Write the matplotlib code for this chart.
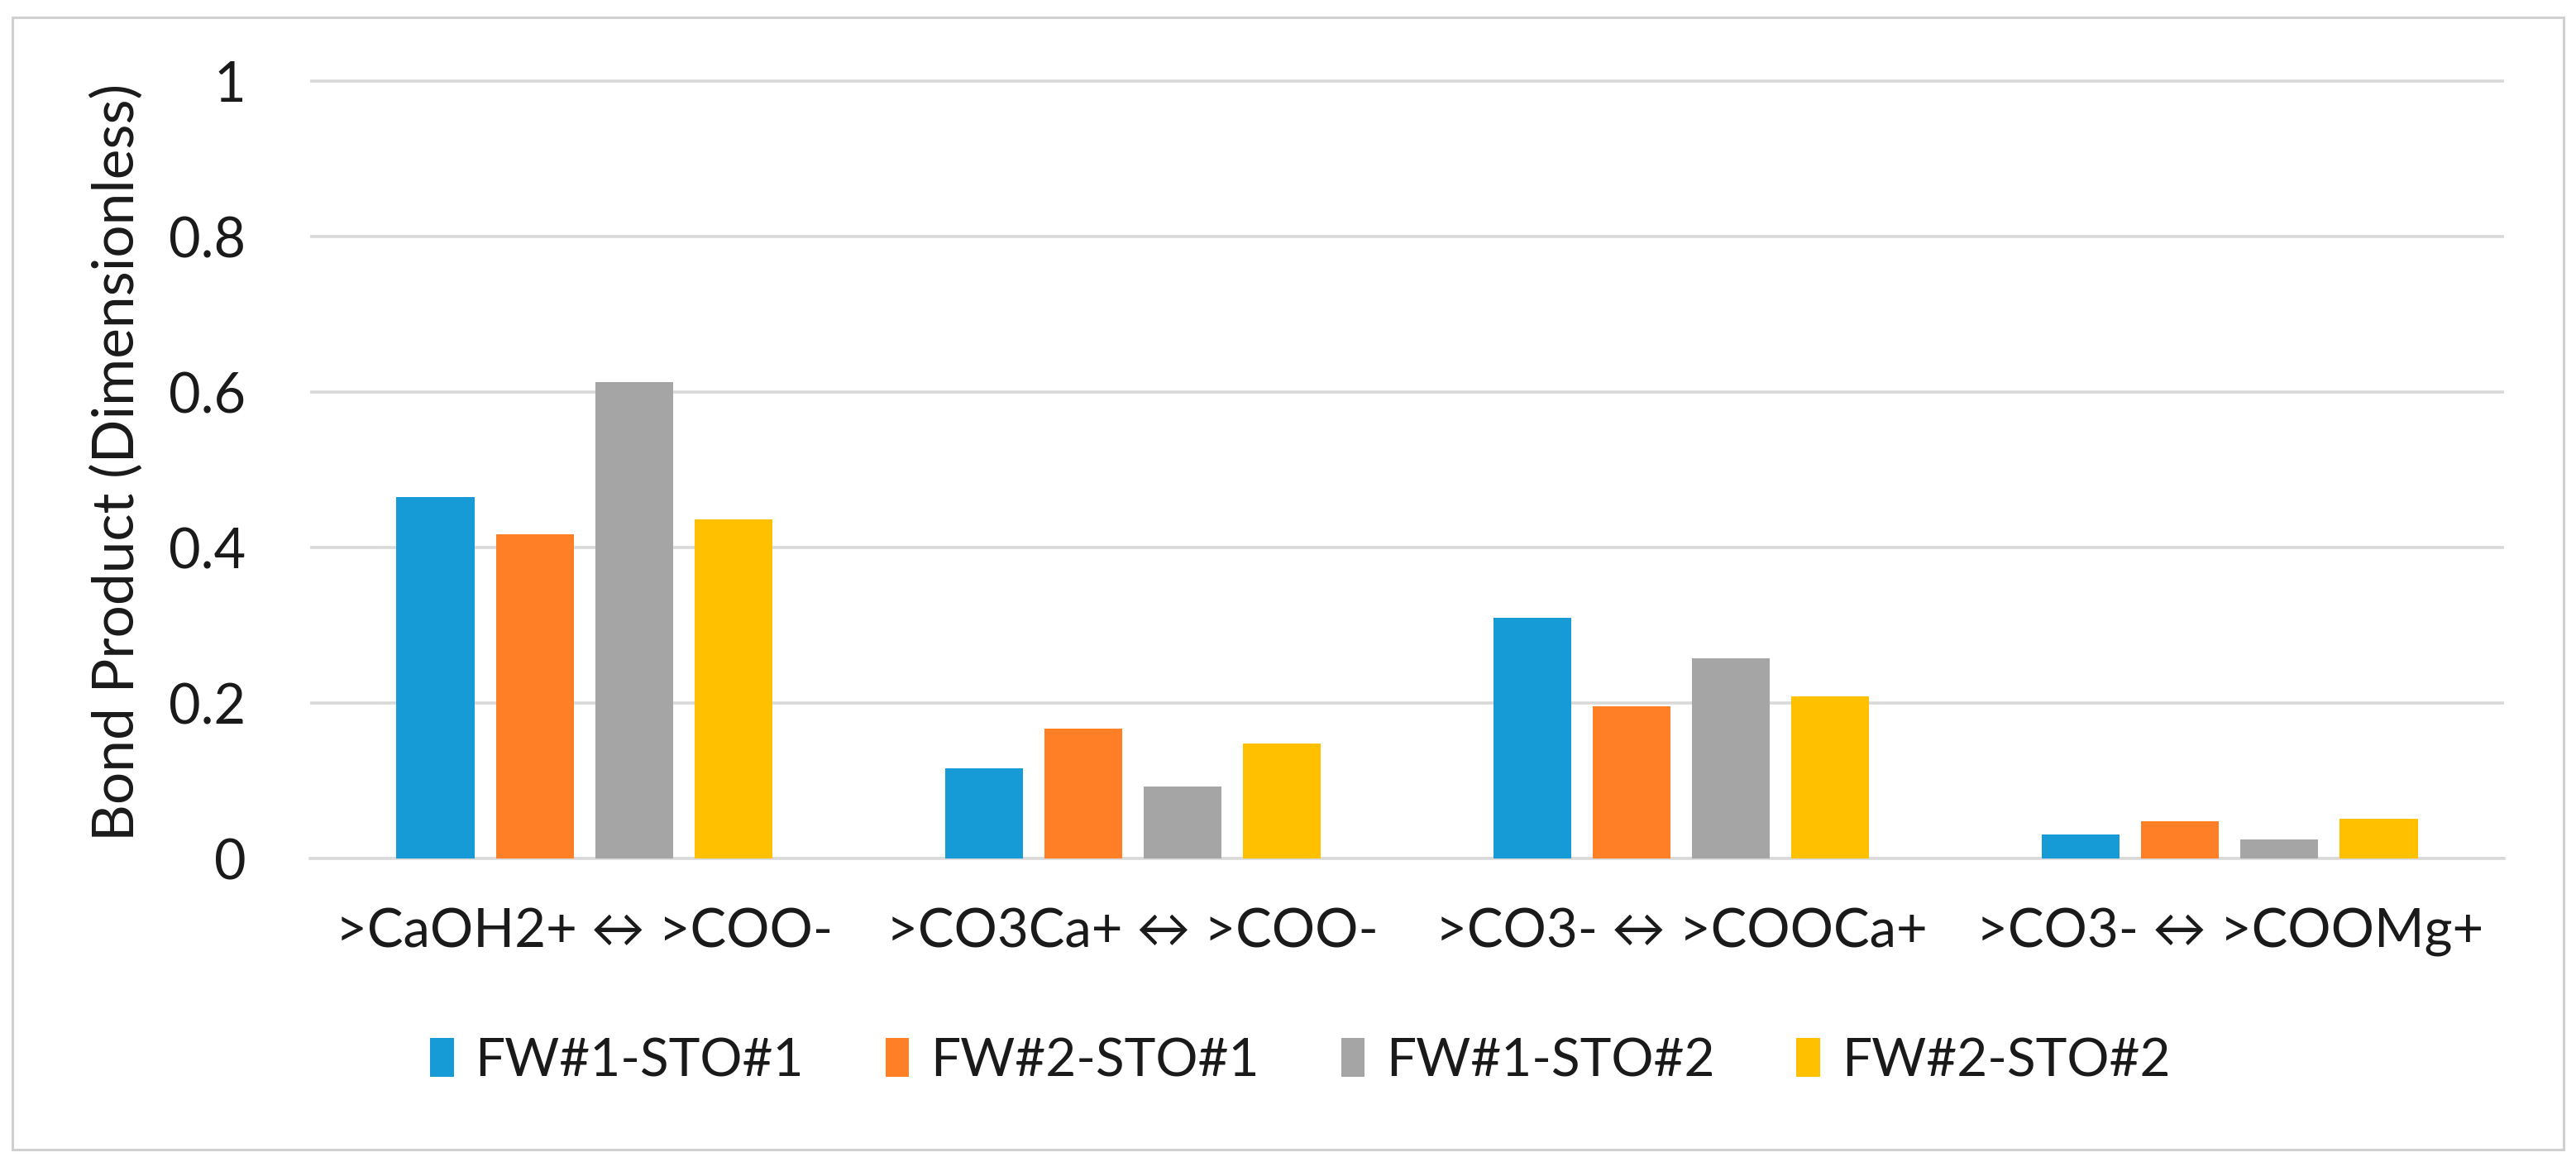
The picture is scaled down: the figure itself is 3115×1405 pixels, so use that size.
import matplotlib
matplotlib.use("Agg")
import matplotlib.pyplot as plt
import numpy as np
from matplotlib.patches import Rectangle

# Data
categories = [">CaOH2+ \u2194 >COO-", ">CO3Ca+ \u2194 >COO-",
              ">CO3- \u2194 >COOCa+", ">CO3- \u2194 >COOMg+"]
series_names = ["FW#1-STO#1", "FW#2-STO#1", "FW#1-STO#2", "FW#2-STO#2"]
fw1_sto1 = [0.465, 0.116, 0.310, 0.031]
fw2_sto1 = [0.417, 0.167, 0.196, 0.048]
fw1_sto2 = [0.613, 0.093, 0.257, 0.025]
fw2_sto2 = [0.436, 0.148, 0.209, 0.051]
colors = ["#169BD7", "#FF7F27", "#A5A5A5", "#FFC000"]
yticks = [0, 0.2, 0.4, 0.6, 0.8, 1]

plt.rcParams['font.family'] = ['Lato', 'DejaVu Sans']
txt = '#1a1a1a'

W, H = 3115, 1405
fig = plt.figure(figsize=(W / 100, H / 100), dpi=100)

# outer frame round the chart
fig.patches.append(Rectangle((15 / W, 1 - 1390 / H), (3100 - 15) / W, (1390 - 21) / H,
                             transform=fig.transFigure, fill=False,
                             edgecolor='#d0d0d0', linewidth=2.2))

left, right = 375 / W, 3028 / W
bottom = 1 - 1038 / H
top = 1 - (98 - 0.02 * 940) / H
ax = fig.add_axes([left, bottom, right - left, top - bottom])

x = np.arange(len(categories))
width = 0.142
step = 0.181
all_series = [fw1_sto1, fw2_sto1, fw1_sto2, fw2_sto2]
for i, vals in enumerate(all_series):
    ax.bar(x + (i - 1.5) * step, vals, width, color=colors[i],
           label=series_names[i], zorder=3)

ax.set_xlim(-0.5, len(categories) - 0.5)
ax.set_ylim(0, 1.02)
ax.set_yticks(yticks)
ax.set_yticklabels(["0", "0.2", "0.4", "0.6", "0.8", "1"])
ax.set_xticks(x)
ax.set_xticklabels(categories)
ax.tick_params(axis='y', length=0, pad=56, labelsize=48, colors=txt)
ax.tick_params(axis='x', length=0, pad=43, labelsize=47, colors=txt)
ax.grid(axis='y', color='#d9d9d9', linewidth=2.6, zorder=0)
for s in ['top', 'right', 'left']:
    ax.spines[s].set_visible(False)
ax.spines['bottom'].set_color('#d9d9d9')
ax.spines['bottom'].set_linewidth(2.6)

ax.set_ylabel("Bond Product (Dimensionless)", fontsize=50, color=txt, labelpad=22)

fig.legend(loc='center', bbox_to_anchor=(1572 / W, 1 - 1283 / H), ncol=4,
           frameon=False, fontsize=46, handlelength=0.45, handleheight=0.75,
           handletextpad=0.4, columnspacing=1.55, labelcolor=txt)

fig.savefig("out.png", dpi=100, facecolor='white')
